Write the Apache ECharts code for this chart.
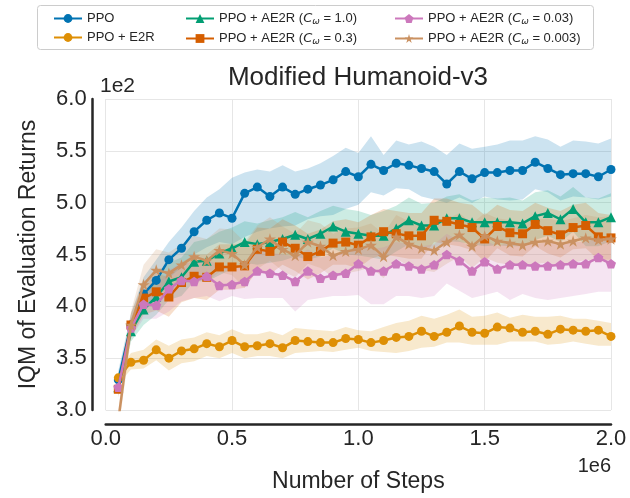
<!DOCTYPE html>
<html>
<head>
<meta charset="utf-8">
<script src="https://cdn.jsdelivr.net/npm/echarts@6/dist/echarts.min.js"></script>
<style>html,body{margin:0;padding:0;background:#fff}#c{width:630px;height:498px}</style>
</head>
<body>
<div id="c"></div>
<script>
// x positions (units of 1e6 steps)
const steps = [0.05,0.10,0.15,0.20,0.25,0.30,0.35,0.40,0.45,0.50,0.55,0.60,0.65,0.70,0.75,0.80,0.85,0.90,0.95,1.00,
               1.05,1.10,1.15,1.20,1.25,1.30,1.35,1.40,1.45,1.50,1.55,1.60,1.65,1.70,1.75,1.80,1.85,1.90,1.95,2.00];
const xTicks = [0.0, 0.5, 1.0, 1.5, 2.0];
const yTicks = [3.0, 3.5, 4.0, 4.5, 5.0, 5.5, 6.0];

// values in units of 1e2
const ppo   = [3.29,3.82,4.12,4.25,4.45,4.56,4.72,4.83,4.90,4.85,5.09,5.15,5.06,5.15,5.08,5.13,5.17,5.22,5.30,5.25,
               5.37,5.31,5.38,5.36,5.33,5.30,5.18,5.30,5.23,5.29,5.29,5.31,5.31,5.39,5.33,5.27,5.28,5.28,5.25,5.32];
const ppoLo = [3.20,3.72,3.98,4.10,4.27,4.38,4.50,4.57,4.62,4.60,4.67,4.72,4.75,4.77,4.78,4.84,4.87,4.88,4.94,4.98,
               5.10,5.07,5.14,5.13,5.06,5.03,5.00,5.05,5.00,5.06,5.03,5.02,5.03,5.13,5.10,5.02,5.06,5.05,5.03,5.06];
const ppoHi = [3.38,3.93,4.28,4.45,4.62,4.76,4.92,5.05,5.13,5.24,5.29,5.32,5.30,5.36,5.30,5.33,5.38,5.45,5.53,5.48,
               5.64,5.46,5.60,5.56,5.59,5.54,5.46,5.57,5.52,5.54,5.56,5.60,5.60,5.64,5.61,5.54,5.60,5.59,5.57,5.62];

const e2r   = [3.31,3.46,3.48,3.58,3.50,3.57,3.59,3.64,3.61,3.67,3.61,3.62,3.64,3.60,3.67,3.66,3.65,3.65,3.69,3.68,
               3.65,3.67,3.70,3.71,3.76,3.71,3.75,3.81,3.75,3.74,3.80,3.79,3.75,3.76,3.73,3.78,3.77,3.76,3.77,3.71];
const e2rLo = [3.25,3.39,3.40,3.48,3.38,3.45,3.47,3.52,3.50,3.55,3.50,3.52,3.52,3.50,3.55,3.56,3.57,3.56,3.58,3.60,
               3.57,3.56,3.55,3.57,3.60,3.61,3.65,3.65,3.63,3.63,3.63,3.66,3.66,3.66,3.63,3.64,3.66,3.64,3.62,3.62];
const e2rHi = [3.37,3.55,3.58,3.68,3.62,3.68,3.70,3.75,3.72,3.78,3.73,3.73,3.76,3.72,3.79,3.78,3.77,3.76,3.80,3.77,
               3.76,3.80,3.84,3.86,3.91,3.88,3.92,3.97,3.90,3.91,3.94,3.89,3.92,3.90,3.90,3.91,3.88,3.88,3.86,3.84];

const ae10   = [3.22,3.76,3.97,4.09,4.24,4.28,4.43,4.44,4.51,4.56,4.62,4.60,4.62,4.65,4.69,4.65,4.70,4.77,4.72,4.70,
                4.68,4.68,4.75,4.83,4.78,4.78,4.85,4.85,4.81,4.81,4.81,4.81,4.80,4.87,4.90,4.84,4.94,4.81,4.81,4.86];
const ae10Lo = [3.14,3.66,3.82,3.92,4.06,4.10,4.24,4.24,4.30,4.36,4.42,4.40,4.42,4.44,4.48,4.45,4.48,4.56,4.50,4.49,
                4.47,4.45,4.53,4.60,4.57,4.56,4.63,4.62,4.60,4.58,4.59,4.58,4.58,4.64,4.68,4.62,4.72,4.58,4.58,4.63];
const ae10Hi = [3.30,3.88,4.12,4.27,4.42,4.47,4.62,4.65,4.72,4.76,4.82,4.80,4.83,4.86,4.91,4.86,4.92,4.97,4.94,4.92,
                4.88,4.92,4.97,5.05,4.99,5.00,5.06,5.08,5.02,5.05,5.04,5.05,5.02,5.10,5.12,5.06,5.15,5.05,5.04,5.09];

const ae03   = [3.20,3.82,4.08,4.14,4.09,4.23,4.29,4.28,4.38,4.38,4.39,4.55,4.53,4.62,4.56,4.48,4.53,4.61,4.62,4.59,
                4.67,4.72,4.70,4.68,4.68,4.83,4.82,4.79,4.76,4.65,4.77,4.71,4.70,4.79,4.73,4.69,4.76,4.78,4.67,4.66];
const ae03Lo = [3.12,3.70,3.92,3.96,3.90,4.04,4.08,4.06,4.16,4.16,4.18,4.34,4.31,4.40,4.34,4.26,4.32,4.40,4.40,4.37,
                4.46,4.50,4.48,4.46,4.46,4.62,4.60,4.58,4.54,4.43,4.56,4.49,4.48,4.58,4.51,4.47,4.55,4.56,4.45,4.45];
const ae03Hi = [3.28,3.93,4.24,4.32,4.28,4.42,4.50,4.50,4.60,4.60,4.60,4.76,4.75,4.84,4.78,4.70,4.74,4.82,4.84,4.81,
                4.88,4.94,4.92,4.90,4.90,5.04,5.04,5.00,4.98,4.88,4.98,4.93,4.92,5.00,4.95,4.92,4.98,5.00,4.90,4.88];

const ae003   = [3.22,3.79,4.02,4.01,4.17,4.25,4.24,4.29,4.20,4.21,4.24,4.34,4.32,4.30,4.24,4.34,4.27,4.30,4.32,4.41,
                 4.34,4.34,4.41,4.39,4.36,4.40,4.50,4.44,4.34,4.43,4.36,4.40,4.40,4.39,4.39,4.40,4.41,4.41,4.47,4.41];
const ae003Lo = [3.15,3.70,3.88,3.88,3.95,4.05,4.08,4.10,4.05,4.10,4.07,4.08,4.08,4.08,3.95,4.06,4.08,4.10,4.10,4.11,
                 4.02,4.02,4.10,4.10,4.08,4.10,4.22,4.15,4.08,4.11,4.14,4.06,4.12,4.08,4.06,4.08,4.10,4.12,4.14,4.14];
const ae003Hi = [3.30,3.88,4.15,4.18,4.35,4.42,4.42,4.45,4.40,4.38,4.42,4.55,4.52,4.50,4.48,4.55,4.47,4.50,4.52,4.60,
                 4.55,4.57,4.62,4.60,4.58,4.60,4.70,4.63,4.58,4.64,4.58,4.62,4.60,4.60,4.62,4.62,4.62,4.62,4.66,4.62];

const ae0003   = [2.90,3.82,4.21,4.35,4.32,4.40,4.48,4.44,4.54,4.51,4.40,4.57,4.65,4.55,4.49,4.62,4.58,4.49,4.53,4.55,
                  4.59,4.48,4.67,4.60,4.56,4.54,4.62,4.69,4.58,4.68,4.63,4.61,4.59,4.62,4.63,4.60,4.63,4.66,4.64,4.65];
const ae0003Lo = [2.80,3.68,4.02,4.15,4.12,4.20,4.28,4.24,4.33,4.30,4.18,4.36,4.44,4.34,4.28,4.41,4.37,4.28,4.32,4.34,
                  4.38,4.27,4.46,4.39,4.35,4.33,4.41,4.48,4.37,4.47,4.42,4.40,4.38,4.41,4.42,4.39,4.42,4.45,4.43,4.44];
const ae0003Hi = [3.00,3.95,4.40,4.55,4.52,4.60,4.68,4.65,4.75,4.74,4.62,4.78,4.86,4.77,4.70,4.83,4.80,4.70,4.75,4.76,
                  4.80,4.70,4.88,4.82,4.78,4.76,4.84,4.90,4.80,4.90,4.85,4.83,4.80,4.84,4.85,4.82,4.85,4.88,4.86,4.87];

const FONT = '"Liberation Sans", Arial, sans-serif';
const INK = '#262626';
const pentagon = 'path://M0,-1 L0.951,-0.309 L0.588,0.809 L-0.588,0.809 L-0.951,-0.309 Z';
const star = 'path://M0,-1 L0.2245,-0.309 L0.951,-0.309 L0.3633,0.118 L0.588,0.809 L0,0.382 L-0.588,0.809 L-0.3633,0.118 L-0.951,-0.309 L-0.2245,-0.309 Z';

const defs = [
  {name:'PPO', mean:ppo, lo:ppoLo, hi:ppoHi, color:'#0173B2', symbol:'circle', size:9},
  {name:'PPO + E2R', mean:e2r, lo:e2rLo, hi:e2rHi, color:'#DE8F05', symbol:'circle', size:9},
  {name:'PPO + AE2R (Cω = 1.0)', mean:ae10, lo:ae10Lo, hi:ae10Hi, color:'#029E73', symbol:'triangle', size:10},
  {name:'PPO + AE2R (Cω = 0.3)', mean:ae03, lo:ae03Lo, hi:ae03Hi, color:'#D55E00', symbol:'rect', size:9},
  {name:'PPO + AE2R (Cω = 0.03)', mean:ae003, lo:ae003Lo, hi:ae003Hi, color:'#CC78BC', symbol:pentagon, size:10},
  {name:'PPO + AE2R (Cω = 0.003)', mean:ae0003, lo:ae0003Lo, hi:ae0003Hi, color:'#CA9161', symbol:star, size:12}
];

const series = [];
defs.forEach((d, k) => {
  series.push({
    name: 'band_' + k, type: 'custom', silent: true, z: 1, clip: true, animation: false,
    data: steps.map((x, i) => [x, d.lo[i], d.hi[i]]),
    encode: {x: 0, y: [1, 2]},
    renderItem: function (params, api) {
      if (params.dataIndex !== 0) return null;
      const pts = [];
      for (let i = 0; i < steps.length; i++) pts.push(api.coord([steps[i], d.hi[i]]));
      for (let i = steps.length - 1; i >= 0; i--) pts.push(api.coord([steps[i], d.lo[i]]));
      const cs = params.coordSys;
      return {
        type: 'polygon',
        shape: {points: pts},
        style: {fill: d.color, opacity: 0.2},
        clipPath: {type: 'rect', shape: {x: cs.x, y: cs.y, width: cs.width, height: cs.height}}
      };
    }
  });
});
defs.forEach((d, k) => {
  series.push({
    name: d.name, type: 'line', z: 3 + k,
    data: steps.map((x, i) => [x, d.mean[i]]),
    symbol: d.symbol, symbolSize: d.size, symbolKeepAspect: true, showSymbol: true,
    lineStyle: {color: d.color, width: 2.5}, itemStyle: {color: d.color},
    animation: false
  });
});

const legendText = {
  fontSize: 13, color: INK, fontFamily: FONT,
  rich: {
    i: {fontSize: 13, fontStyle: 'italic', fontFamily: '"DejaVu Sans", sans-serif', color: INK},
    s: {fontSize: 9, fontStyle: 'italic', fontFamily: '"DejaVu Sans", sans-serif', color: INK, padding: [6, 0, 0, 0]}
  }
};
const legendFmt = n => n.replace('Cω', '{i|C}{s|ω}');
function mkLegend(names, left) {
  return {data: names, left: left, top: 7, orient: 'vertical', itemGap: 6, itemWidth: 28, itemHeight: 11,
          textStyle: legendText, formatter: legendFmt, selectedMode: false};
}

const chart = echarts.init(document.getElementById('c'), null, {renderer: 'canvas'});
chart.setOption({
  backgroundColor: '#fff',
  animation: false,
  grid: {left: 105.7, right: 19, top: 99, bottom: 85},
  legend: [
    mkLegend([defs[0].name, defs[1].name], 48),
    mkLegend([defs[2].name, defs[3].name], 180),
    mkLegend([defs[4].name, defs[5].name], 389)
  ],
  xAxis: {
    type: 'value', min: xTicks[0], max: xTicks[xTicks.length - 1], interval: 0.5, offset: 14,
    axisLine: {show: true, onZero: false, lineStyle: {color: INK, width: 2.5}},
    axisTick: {show: false},
    axisLabel: {formatter: v => v.toFixed(1), fontSize: 22, color: INK, fontFamily: FONT, margin: 4},
    splitLine: {show: true, lineStyle: {color: '#e6e6e6', width: 1}},
    name: 'Number of Steps', nameLocation: 'middle', nameGap: 46,
    nameTextStyle: {fontSize: 23, color: INK, fontFamily: FONT}
  },
  yAxis: {
    type: 'value', min: yTicks[0], max: yTicks[yTicks.length - 1], interval: 0.5, offset: 13,
    axisLine: {show: true, onZero: false, lineStyle: {color: INK, width: 2.5}},
    axisTick: {show: false},
    axisLabel: {formatter: v => v.toFixed(1), fontSize: 22, color: INK, fontFamily: FONT, margin: 6},
    splitLine: {show: true, lineStyle: {color: '#e6e6e6', width: 1}},
    name: 'IQM of Evaluation Returns', nameLocation: 'middle', nameGap: 53, nameRotate: 90,
    nameTextStyle: {fontSize: 23, color: INK, fontFamily: FONT}
  },
  graphic: [
    {type: 'rect', z: -1, shape: {x: 37.5, y: 5.5, width: 556, height: 44, r: 3},
     style: {fill: '#fff', stroke: '#cccccc', lineWidth: 1}},
    {type: 'text', x: 358, y: 78, style: {text: 'Modified Humanoid-v3', font: '26px ' + FONT, fill: INK, align: 'center', verticalAlign: 'middle'}},
    {type: 'text', x: 100, y: 86, style: {text: '1e2', font: '21px ' + FONT, fill: INK, align: 'left', verticalAlign: 'middle'}},
    {type: 'text', x: 611, y: 466, style: {text: '1e6', font: '20px ' + FONT, fill: INK, align: 'right', verticalAlign: 'middle'}}
  ],
  series: series
});
</script>
</body>
</html>
